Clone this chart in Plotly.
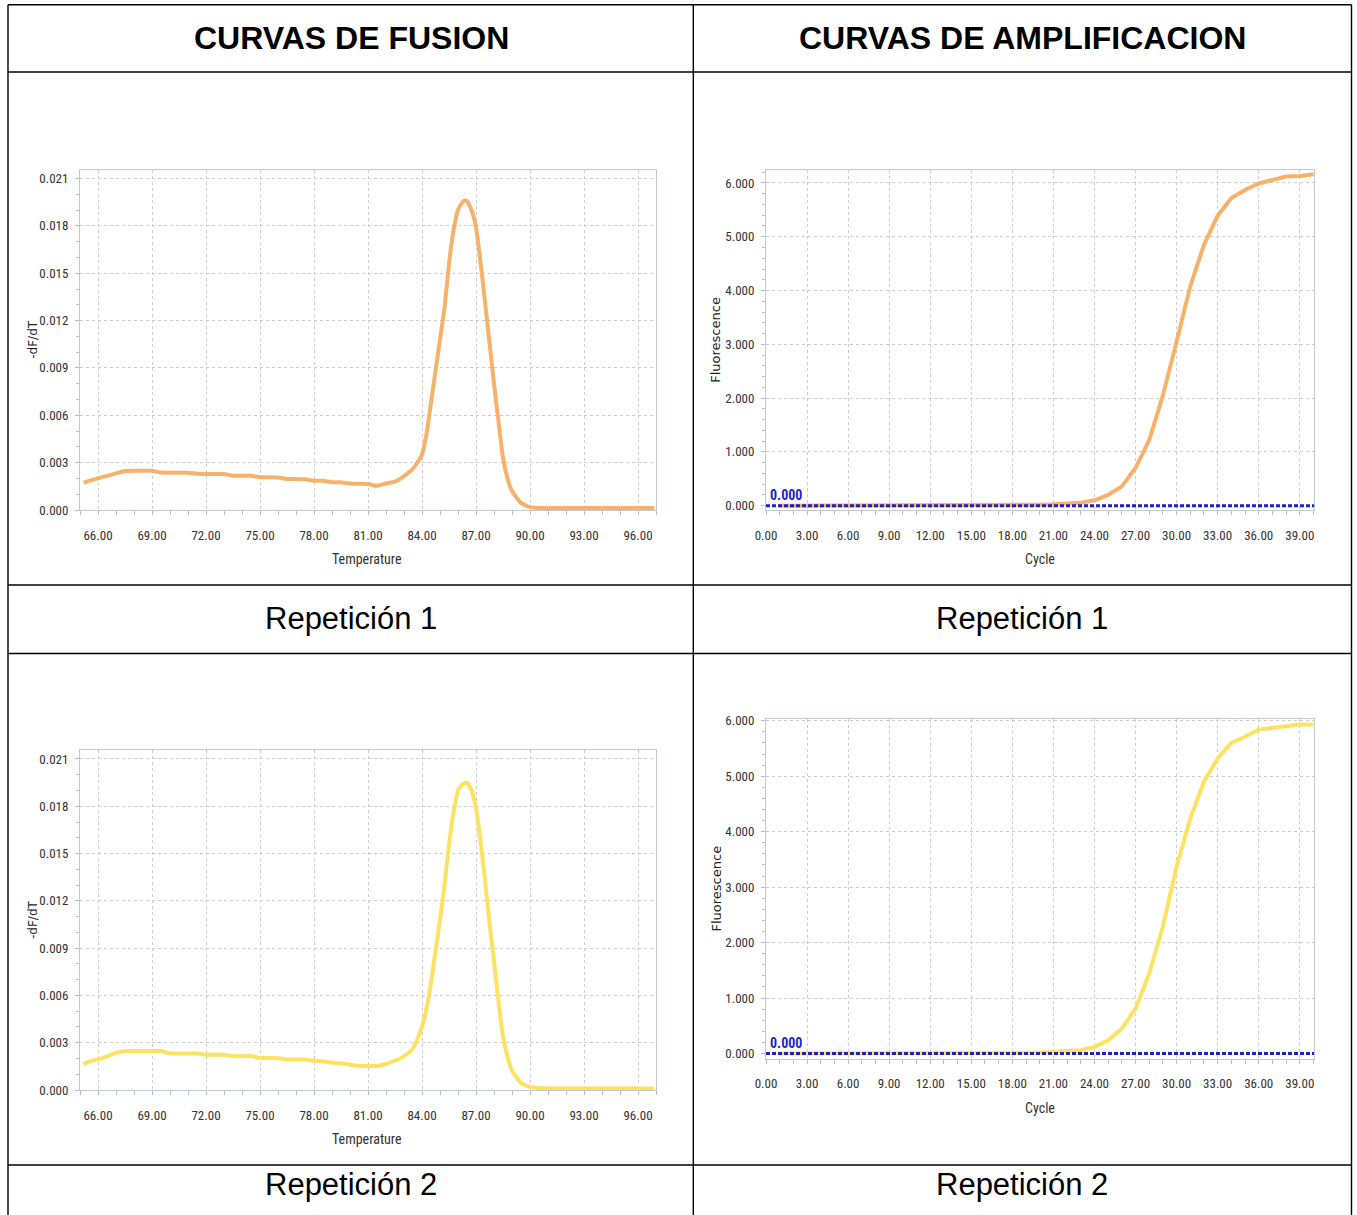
import plotly.graph_objects as go

# ---------------- data ----------------
# Melt curves: temperature (°C) and -dF/dT
melt_temp_1 = [65.2, 65.5, 66.0, 66.5, 67.0, 67.5, 68.0, 68.5, 69.0, 69.5, 70.0, 70.5,
               71.0, 71.5, 72.0, 72.5, 73.0, 73.5, 74.0, 74.5, 75.0, 75.5, 76.0, 76.5,
               77.0, 77.5, 78.0, 78.5, 79.0, 79.5, 80.0, 80.5, 81.0, 81.5, 82.0, 82.5,
               83.0, 83.5, 84.0, 84.25, 84.5, 84.75, 85.0, 85.25, 85.5, 85.75, 86.0,
               86.25, 86.4, 86.5, 86.75, 87.0, 87.25, 87.5, 87.75, 88.0, 88.25, 88.5,
               88.75, 89.0, 89.5, 90.0, 90.5, 91.0, 92.0, 93.0, 94.0, 95.0, 96.0, 96.9]
melt_dfdt_1 = [0.00172, 0.00185, 0.00201, 0.00216, 0.00232, 0.00247, 0.00249, 0.00249,
               0.00249, 0.00237, 0.00236, 0.00236, 0.00236, 0.00229, 0.00228, 0.00228,
               0.00228, 0.00217, 0.00217, 0.00217, 0.00207, 0.00207, 0.00206, 0.00196,
               0.00196, 0.00195, 0.00186, 0.00185, 0.00176, 0.00175, 0.00168, 0.00166,
               0.00165, 0.00153, 0.00168, 0.00180, 0.00215, 0.00262, 0.00350, 0.00480,
               0.00680, 0.00880, 0.01080, 0.01280, 0.01560, 0.01770, 0.01900, 0.01950,
               0.01960, 0.01955, 0.01900, 0.01790, 0.01570, 0.01320, 0.01060, 0.00800,
               0.00560, 0.00330, 0.00200, 0.00120, 0.00045, 0.00018, 0.00013, 0.00012,
               0.00012, 0.00012, 0.00012, 0.00012, 0.00012, 0.00012]

melt_temp_2 = [65.2, 65.5, 66.0, 66.5, 67.0, 67.5, 68.0, 68.5, 69.0, 69.5, 70.0, 70.5,
               71.0, 71.5, 72.0, 72.5, 73.0, 73.5, 74.0, 74.5, 75.0, 75.5, 76.0, 76.5,
               77.0, 77.5, 78.0, 78.5, 79.0, 79.5, 80.0, 80.5, 81.0, 81.5, 82.0, 82.5,
               83.0, 83.5, 84.0, 84.25, 84.5, 84.75, 85.0, 85.25, 85.5, 85.75, 86.0,
               86.25, 86.5, 86.75, 87.0, 87.25, 87.5, 87.75, 88.0, 88.25, 88.5, 88.75,
               89.0, 89.5, 90.0, 90.5, 91.0, 92.0, 93.0, 94.0, 95.0, 96.0, 96.9]
melt_dfdt_2 = [0.00165, 0.00180, 0.00194, 0.00214, 0.00236, 0.00247, 0.00247, 0.00247,
               0.00247, 0.00247, 0.00232, 0.00232, 0.00232, 0.00232, 0.00224, 0.00224,
               0.00224, 0.00215, 0.00215, 0.00215, 0.00203, 0.00203, 0.00203, 0.00194,
               0.00194, 0.00193, 0.00184, 0.00183, 0.00173, 0.00170, 0.00160, 0.00153,
               0.00152, 0.00152, 0.00165, 0.00186, 0.00215, 0.00264, 0.00400, 0.00520,
               0.00680, 0.00880, 0.01080, 0.01300, 0.01560, 0.01760, 0.01900, 0.01940,
               0.01950, 0.01900, 0.01790, 0.01580, 0.01330, 0.01060, 0.00820, 0.00560,
               0.00340, 0.00210, 0.00125, 0.00045, 0.00020, 0.00012, 0.00010, 0.00010,
               0.00010, 0.00010, 0.00010, 0.00010, 0.00010]

# Amplification curves: cycle and fluorescence
cycles = list(range(1, 41))
fluor_1 = [0.0, 0.0, 0.0, 0.0, 0.0, 0.0, 0.0, 0.0, 0.0, 0.0,
           0.0, 0.0, 0.0, 0.0, 0.0, 0.0, 0.005, 0.008, 0.012, 0.018,
           0.026, 0.040, 0.056, 0.100, 0.200, 0.360, 0.700, 1.220, 2.050, 3.050,
           4.080, 4.850, 5.390, 5.720, 5.870, 5.990, 6.060, 6.120, 6.130, 6.160]
fluor_2 = [0.0, 0.0, 0.0, 0.0, 0.0, 0.0, 0.0, 0.0, 0.0, 0.0,
           0.0, 0.0, 0.0, 0.0, 0.0, 0.0, 0.005, 0.010, 0.015, 0.020,
           0.030, 0.040, 0.060, 0.120, 0.240, 0.450, 0.810, 1.440, 2.290, 3.370,
           4.240, 4.900, 5.320, 5.600, 5.710, 5.840, 5.870, 5.900, 5.930, 5.930]

threshold = 0.0

headers = ["CURVAS DE FUSION", "CURVAS DE AMPLIFICACION"]
row_labels = ["Repetición 1", "Repetición 2"]

ORANGE = "rgba(245,168,90,0.9)"
YELLOW = "rgba(253,224,90,0.95)"
BLUE = "#1f1fc8"

W, H = 1357, 1215
NARROW = "Liberation Sans Narrow, Roboto Condensed, DejaVu Sans Condensed, Arial Narrow, sans-serif"
TICK_FONT = dict(family=NARROW, size=13, color="#333333")
TEXT_FONT = "Liberation Sans, Arial, sans-serif"


def px_x(p):
    return p / W


def px_y(p):
    return 1 - p / H


fig = go.Figure()

# plot boxes in pixels: (left, right, top, bottom)
boxes = {
    "melt1": (80, 656, 169.5, 510),
    "amp1": (766, 1314, 169.5, 510),
    "melt2": (80, 656, 750, 1090),
    "amp2": (766, 1314, 718.5, 1058.5),
}

axis_ids = {"melt1": ("x", "y"), "amp1": ("x2", "y2"), "melt2": ("x3", "y3"), "amp2": ("x4", "y4")}

common_axis = dict(
    showline=True, mirror=True, linecolor="#c3c7ce", linewidth=1,
    showgrid=True, gridcolor="#cccccc", griddash="dot", gridwidth=1,
    zeroline=False, ticks="outside", ticklen=4, tickcolor="#b8bcc4",
    tickfont=TICK_FONT, automargin=False,
)

for key, (l, r, t, b) in boxes.items():
    xa, ya = axis_ids[key]
    xname = "xaxis" + xa[1:]
    yname = "yaxis" + ya[1:]
    xdom = [px_x(l), px_x(r)]
    ydom = [px_y(b), px_y(t)]
    if key.startswith("melt"):
        xcfg = dict(range=[65.0, 97.0], tick0=66, dtick=3, tickformat=".2f",
                    minor=dict(dtick=1, tick0=66, ticks="outside", ticklen=4,
                               tickcolor="#b8bcc4", showgrid=False))
        ycfg = dict(range=[0, 0.02157], tick0=0, dtick=0.003, tickformat=".3f",
                    minor=dict(dtick=0.001, tick0=0, ticks="outside", ticklen=3,
                               tickcolor="#b8bcc4", showgrid=False))
    else:
        xcfg = dict(range=[0, 40.04], tick0=0, dtick=3, tickformat=".2f",
                    minor=dict(dtick=1, tick0=0, ticks="outside", ticklen=4,
                               tickcolor="#b8bcc4", showgrid=False))
        yr = [-0.08, 6.25] if key == "amp1" else [-0.09, 6.04]
        ycfg = dict(range=yr, tick0=0, dtick=1, tickformat=".3f",
                    minor=dict(dtick=0.2, tick0=0, ticks="outside", ticklen=3,
                               tickcolor="#b8bcc4", showgrid=False))
    fig.layout[xname] = dict(domain=xdom, anchor=ya, ticklabelstandoff=9, **xcfg, **common_axis)
    fig.layout[yname] = dict(domain=ydom, anchor=xa, ticklabelstandoff=4, **ycfg, **common_axis)

# melt curves
fig.add_trace(go.Scatter(x=melt_temp_1, y=melt_dfdt_1, mode="lines",
                         line=dict(color=ORANGE, width=4, shape="spline", smoothing=0.5),
                         xaxis="x", yaxis="y", hoverinfo="skip"))
fig.add_trace(go.Scatter(x=melt_temp_2, y=melt_dfdt_2, mode="lines",
                         line=dict(color=YELLOW, width=4, shape="spline", smoothing=0.5),
                         xaxis="x3", yaxis="y3", hoverinfo="skip"))

# amplification curves with threshold line
for xa, ya, vals, col in [("x2", "y2", fluor_1, ORANGE), ("x4", "y4", fluor_2, YELLOW)]:
    fig.add_trace(go.Scatter(x=cycles, y=vals, mode="lines",
                             line=dict(color=col, width=4),
                             xaxis=xa, yaxis=ya, hoverinfo="skip"))
    fig.add_trace(go.Scatter(x=[0, 40.04], y=[threshold, threshold], mode="lines",
                             line=dict(color=BLUE, width=3, dash="4px,2px"),
                             xaxis=xa, yaxis=ya, hoverinfo="skip"))
    fig.add_annotation(x=0.15, y=threshold, xref=xa, yref=ya, text=f"{threshold:.3f}",
                       showarrow=False, xanchor="left", yanchor="bottom", yshift=1,
                       font=dict(family=NARROW, size=14, color=BLUE, weight="bold"))


def label(x, y, text, size, family, color="black", angle=0):
    fig.add_annotation(x=px_x(x), y=px_y(y), xref="paper", yref="paper", text=text,
                       showarrow=False, xanchor="center", yanchor="middle", textangle=angle,
                       font=dict(family=family, size=size, color=color))


# axis titles
for key, (l, r, t, b) in boxes.items():
    is_melt = key.startswith("melt")
    label(367 if is_melt else 1040, b + 49, "Temperature" if is_melt else "Cycle",
          14, NARROW, "#333333")
    if is_melt:
        label(33, (t + b) / 2, "-dF/dT", 12, "DejaVu Sans, Verdana, sans-serif", "#222222", -90)
    else:
        label(716, (t + b) / 2, "Fluorescence", 13, "DejaVu Sans, Verdana, sans-serif", "#222222", -90)

# table headers and row labels
label(351, 38, f"<b>{headers[0]}</b>", 32, TEXT_FONT)
label(1022, 38, f"<b>{headers[1]}</b>", 32, TEXT_FONT)
for cy, lab in [(619, row_labels[0]), (1184, row_labels[1])]:
    for cx in (351, 1022):
        label(cx, cy, lab, 31, TEXT_FONT)

# table grid lines
line = dict(color="black", width=1.4)
shapes = []
for yv in (4.7, 72, 585, 653.5, 1165):
    shapes.append(dict(type="line", xref="paper", yref="paper", x0=px_x(8), x1=px_x(1351.5),
                       y0=px_y(yv), y1=px_y(yv), line=line))
for xv in (8, 693.3, 1351.5):
    shapes.append(dict(type="line", xref="paper", yref="paper", x0=px_x(xv), x1=px_x(xv),
                       y0=px_y(4.7), y1=px_y(1216), line=line))
fig.update_layout(shapes=shapes)

fig.update_layout(
    width=W, height=H, margin=dict(l=0, r=0, t=0, b=0, autoexpand=False),
    paper_bgcolor="white", plot_bgcolor="white", showlegend=False,
)

fig.write_html("out.html")
